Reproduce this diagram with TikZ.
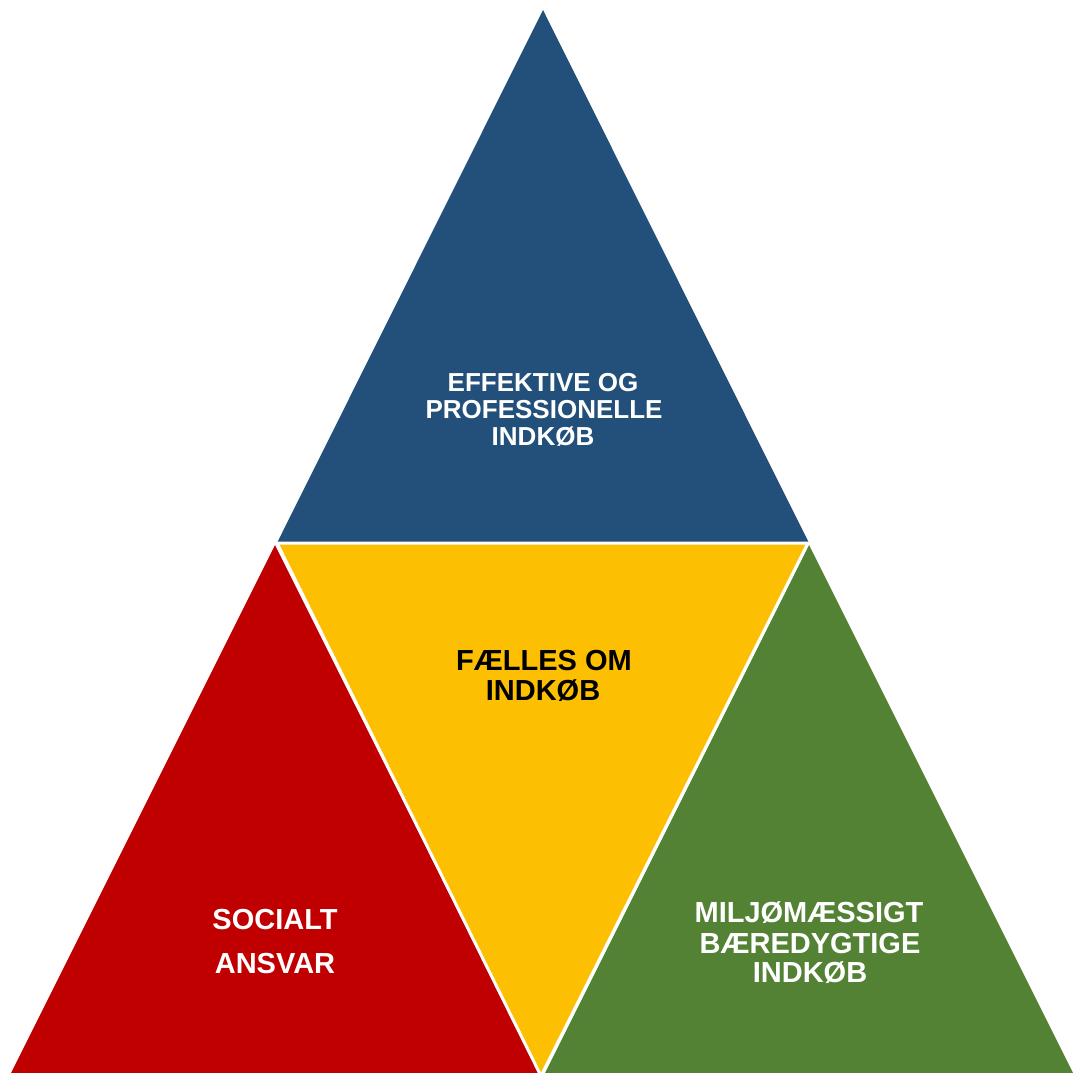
\documentclass[tikz,border=0pt]{standalone}
\usepackage{fontspec}
\setmainfont{Liberation Sans}
\definecolor{tblue}{HTML}{22507A}
\definecolor{tred}{HTML}{C00000}
\definecolor{tyellow}{HTML}{FCBF01}
\definecolor{tgreen}{HTML}{548235}
\begin{document}
\begin{tikzpicture}[x=1pt,y=-1pt,
  sep/.style={draw=white,line width=3pt,line join=miter},
  lbl/.style={inner sep=0pt,anchor=base,font=\bfseries\fontsize{29}{30}\selectfont},
  lblsmall/.style={inner sep=0pt,anchor=base,font=\bfseries\fontsize{26}{28}\selectfont}]
\useasboundingbox (0,0) rectangle (1073,1072);
\clip (0,0) rectangle (1073,1072);
\fill[white] (0,0) rectangle (1073,1072);
\fill[tblue] (543,10) -- (809,543) -- (277,543) -- cycle;
\fill[tred] (275,545) -- (543,1081) -- (7,1081) -- cycle;
\fill[tgreen] (809,545) -- (1077,1081) -- (541,1081) -- cycle;
\filldraw[sep,fill=tyellow] (277,543) -- (808,543) -- (541,1076) -- cycle;
\node[lblsmall,white] (b1) at (543,391) {EFFEKTIVE OG};
\node[lblsmall,white] (b2) at (544,418) {PROFESSIONELLE};
\node[lblsmall,white] (b3) at (543,445) {INDKØB};
\node[lbl,black] (y1) at (544,670) {FÆLLES OM};
\node[lbl,black] (y2) at (543,700) {INDKØB};
\node[lbl,white] (r1) at (275,929) {SOCIALT};
\node[lbl,white] (r2) at (275,973) {ANSVAR};
\node[lbl,white] (g1) at (809,922) {MILJØMÆSSIGT};
\node[lbl,white] (g2) at (810,953) {BÆREDYGTIGE};
\node[lbl,white] (g3) at (810,982) {INDKØB};
\end{tikzpicture}
\end{document}
